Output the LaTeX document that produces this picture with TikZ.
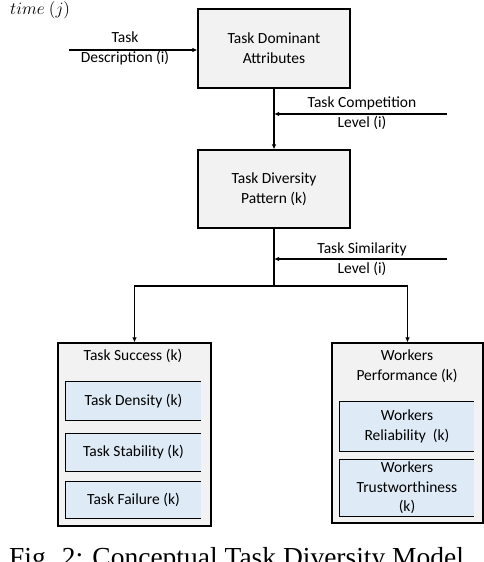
\documentclass[tikz,border=0pt]{standalone}
\usepackage{fontspec}
\setmainfont{Carlito}
\newfontfamily\capfont{Liberation Serif}
\usetikzlibrary{arrows.meta}
\definecolor{boxgray}{HTML}{F2F2F2}
\definecolor{boxblue}{HTML}{DEEBF7}
\begin{document}
\begin{tikzpicture}[x=1pt,y=-1pt,
  every node/.style={font=\fontsize{15.5}{20}\selectfont, inner sep=0pt},
  mainbox/.style={draw, fill=boxgray, line width=1.1pt, align=center},
  innerbox/.style={fill=boxblue, align=center},
  lbl/.style={align=center},
  arr/.style={line width=1.1pt, -{Latex[length=5pt,width=4.5pt]}},
  ln/.style={line width=1.1pt}]
\useasboundingbox (0,0) rectangle (484,562);
\fill[white] (0,0) rectangle (484,562);

\node[anchor=west] (time) at (10,10) {\scalebox{1.2}{$time\ (j)$}};

\node[mainbox, minimum width=152pt, minimum height=79pt] (tda) at (274,48.5) {Task Dominant\\Attributes};
\node[mainbox, minimum width=152pt, minimum height=78pt] (tdp) at (274,189) {Task Diversity\\Pattern (k)};

\node[mainbox, minimum width=153pt, minimum height=183pt] (ts) at (134.5,434.5) {};
\node[mainbox, minimum width=151pt, minimum height=180pt] (wp) at (407.5,433) {};
\node[lbl] (tst) at (133,356) {Task Success (k)};
\node[lbl] (wpt) at (407,366) {Workers\\Performance (k)};

% inner boxes
\node[innerbox, minimum width=135pt, minimum height=38pt] (td) at (133.5,401) {Task Density (k)};
\node[innerbox, minimum width=135pt, minimum height=37pt] (tsb) at (133.5,452.5) {Task Stability (k)};
\node[innerbox, minimum width=135pt, minimum height=36pt] (tf) at (133.5,500) {Task Failure (k)};
\node[innerbox, minimum width=134pt, minimum height=49pt] (wr) at (407,426.5) {Workers\\Reliability\ \ (k)};
\node[innerbox, minimum width=134pt, minimum height=56pt, font=\fontsize{15.5}{19.5}\selectfont] (wt) at (407,488) {Workers\\Trustworthiness\\(k)};
\foreach \n in {td,tsb,tf,wr,wt}{
  \draw[ln] (\n.north east) -- (\n.north west) -- (\n.south west) -- (\n.south east);
}

% connectors
\draw[arr] (tda.south) -- (tdp.north);
\coordinate (j1) at (274,286);
\draw[ln] (tdp.south) -- (j1);
\draw[arr] (j1) -| (ts.north);
\draw[arr] (j1) -| (wp.north);

\coordinate (descIn) at (69,50);
\draw[arr] (descIn) -- (tda.west |- descIn);
\node[lbl] (descL) at (125,48) {Task\\Description (i)};

\coordinate (compIn) at (447,114);
\draw[arr] (compIn) -- (tda.south |- compIn);
\node[lbl] (compL) at (362,113.5) {Task Competition\\Level (i)};

\coordinate (simIn) at (447,259);
\draw[arr] (simIn) -- (tda.south |- simIn);
\node[lbl] (simL) at (362,259) {Task Similarity\\Level (i)};

\node[anchor=base west, font=\capfont\fontsize{27.5}{30}\selectfont] (cap) at (9,566) {Fig. 2: Conceptual Task Diversity Model};
\end{tikzpicture}
\end{document}
